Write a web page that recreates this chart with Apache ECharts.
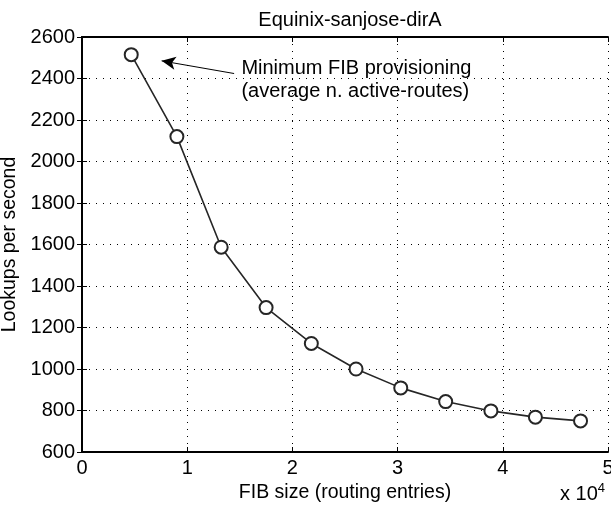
<!DOCTYPE html>
<html>
<head>
<meta charset="utf-8">
<script src="https://cdn.jsdelivr.net/npm/echarts@6/dist/echarts.min.js"></script>
<style>
  html, body { margin: 0; padding: 0; background: #fff; }
  #chart { width: 611px; height: 512px; }
</style>
</head>
<body>
<div id="chart"></div>
<script>
// FIB size (entries) and lookups per second
var fibSize = [4680, 9020, 13230, 17500, 21800, 26050, 30300, 34570, 38870, 43100, 47390];
var lookups = [2515, 2120, 1587, 1296, 1123, 1000, 909, 843, 798, 768, 750];

var xTicks = [0, 1, 2, 3, 4, 5];            // x 10^4
var yTicks = [600, 800, 1000, 1200, 1400, 1600, 1800, 2000, 2200, 2400, 2600];

// annotation: arrow tail/head and text anchor, in data units
var arrowFrom = [14460, 2424];
var arrowTo = [7570, 2485];
var noteAt = [15150, 2392];
var noteLines = ['Minimum FIB provisioning', '(average n. active-routes)'];

var font = 'Liberation Sans';
var black = '#000';
var fs = 20;     // tick labels, title, note
var nameFs = 19.5;

var myChart = echarts.init(document.getElementById('chart'));

var xStep = 10000;
var yStep = yTicks[1] - yTicks[0];

var option = {
    animation: false,
    backgroundColor: '#fff',
    textStyle: { fontFamily: font },
    title: {
        text: 'Equinix-sanjose-dirA',
        left: 345,
        textAlign: 'center',
        top: 5,
        textStyle: { fontFamily: font, fontSize: fs, fontWeight: 'normal', color: black }
    },
    grid: { left: 82, right: 3, top: 37, bottom: 60, outerBoundsMode: 'none', containLabel: false },
    xAxis: [{
        type: 'value',
        min: xTicks[0] * xStep,
        max: xTicks[xTicks.length - 1] * xStep,
        interval: xStep,
        name: 'FIB size (routing entries)',
        nameLocation: 'middle',
        nameGap: 29,
        nameTextStyle: { fontFamily: font, fontSize: nameFs, color: black },
        axisLine: { lineStyle: { color: black, width: 2 } },
        axisTick: { inside: true, length: 5, lineStyle: { color: black } },
        axisLabel: {
            fontFamily: font, fontSize: fs, color: black, margin: 6,
            formatter: function (v) { return String(v / xStep); }
        },
        splitLine: { show: true, lineStyle: { color: black, type: [1, 6], width: 1 } }
    }, {
        type: 'value',
        position: 'top',
        min: xTicks[0] * xStep,
        max: xTicks[xTicks.length - 1] * xStep,
        interval: xStep,
        axisLine: { lineStyle: { color: black, width: 2 } },
        axisTick: { inside: true, length: 5, lineStyle: { color: black } },
        axisLabel: { show: false },
        splitLine: { show: false }
    }],
    yAxis: [{
        type: 'value',
        min: yTicks[0],
        max: yTicks[yTicks.length - 1],
        interval: yStep,
        name: 'Lookups per second',
        nameLocation: 'middle',
        nameGap: 57,
        nameTextStyle: { fontFamily: font, fontSize: nameFs, color: black },
        axisLine: { show: true, lineStyle: { color: black, width: 2 } },
        axisTick: { show: true, inside: true, length: 5, lineStyle: { color: black } },
        axisLabel: {
            fontFamily: font, fontSize: fs, color: black, margin: 7,
            formatter: function (v) { return String(v); }
        },
        splitLine: { show: true, lineStyle: { color: black, type: [1, 6], width: 1 } }
    }, {
        type: 'value',
        position: 'right',
        min: yTicks[0],
        max: yTicks[yTicks.length - 1],
        interval: yStep,
        axisLine: { show: true, lineStyle: { color: black, width: 2 } },
        axisTick: { show: true, inside: true, length: 5, lineStyle: { color: black } },
        axisLabel: { show: false },
        splitLine: { show: false }
    }],
    graphic: [{
        type: 'text',
        right: 6,
        bottom: 8,
        style: {
            text: 'x 10{sup|4}',
            fontFamily: font,
            fontSize: fs,
            fill: black,
            rich: { sup: { fontFamily: font, fontSize: 13, verticalAlign: 'top', padding: [0, 0, 12, 0] } }
        }
    }],
    series: [{
        type: 'line',
        data: fibSize.map(function (x, i) { return [x, lookups[i]]; }),
        symbol: 'emptyCircle',
        symbolSize: 13,
        lineStyle: { color: '#262626', width: 1.6 },
        itemStyle: { color: '#262626', borderColor: '#262626', borderWidth: 1.6 },
        markLine: {
            silent: true,
            symbol: ['none', 'arrow'],
            symbolSize: [10, 14],
            lineStyle: { color: black, width: 1, type: 'solid' },
            label: { show: false },
            data: [[{ coord: arrowFrom }, { coord: arrowTo }]]
        },
        markPoint: {
            silent: true,
            symbol: 'circle',
            symbolSize: 0,
            data: [{
                coord: noteAt,
                label: {
                    show: true,
                    position: 'right',
                    distance: 0,
                    align: 'left',
                    fontFamily: font,
                    fontSize: fs,
                    lineHeight: 23,
                    color: black,
                    formatter: noteLines.join('\n')
                }
            }]
        }
    }]
};

myChart.setOption(option);
</script>
</body>
</html>
